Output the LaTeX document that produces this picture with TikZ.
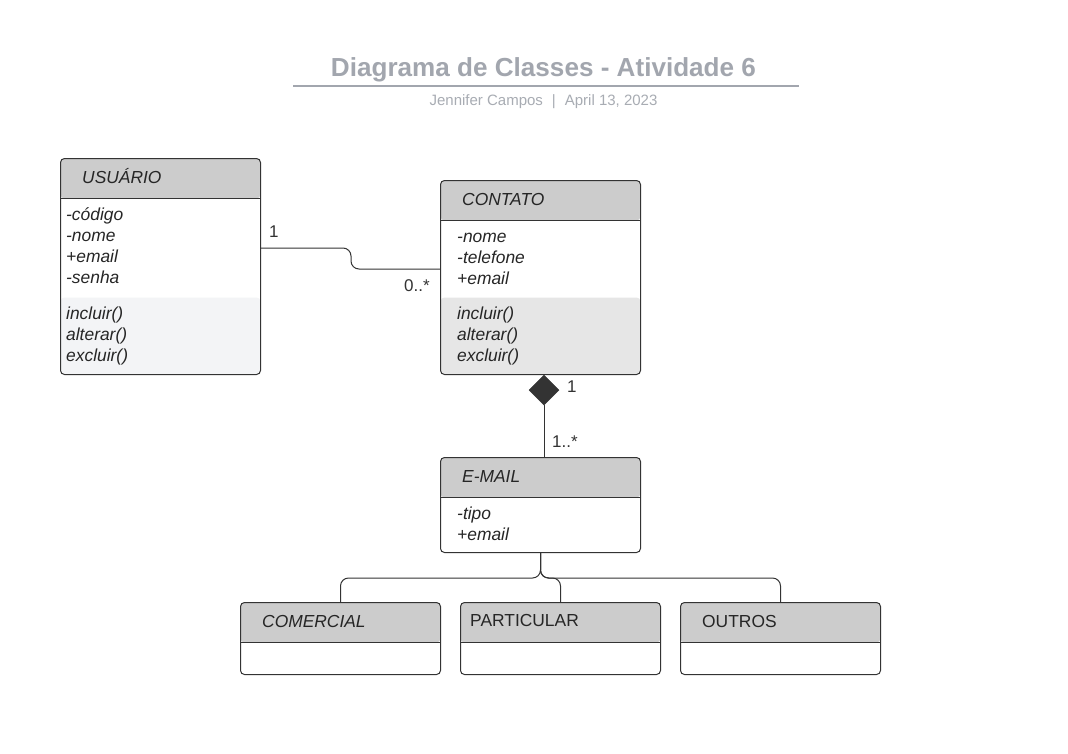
\documentclass[tikz,border=0pt]{standalone}
\usepackage{fontspec}
\setmainfont{Liberation Sans}
\usetikzlibrary{shapes.geometric,calc}
\definecolor{hdrc}{HTML}{CCCCCC}
\definecolor{linec}{HTML}{333333}
\definecolor{txtc}{HTML}{262626}
\definecolor{titc}{HTML}{A2A6AE}
\definecolor{subc}{HTML}{A8ACB3}
\definecolor{methu}{HTML}{F3F4F6}
\definecolor{methc}{HTML}{E6E6E6}
\begin{document}
\begin{tikzpicture}[x=1pt,y=-1pt,
  box/.style={draw=linec, line width=1pt, rounded corners=4pt, fill=white,
    minimum width=200pt, inner sep=0pt, anchor=north west},
  hdr/.style={path picture={
    \fill[hdrc] (path picture bounding box.north west) rectangle ([yshift=-40pt]path picture bounding box.north east);
    \draw[linec, line width=1pt] ([yshift=-40pt]path picture bounding box.north west) -- ([yshift=-40pt]path picture bounding box.north east);}},
  cls/.style 2 args={path picture={
    \fill[#2] ([yshift=-#1]path picture bounding box.north west) rectangle (path picture bounding box.south east);
    \fill[hdrc] (path picture bounding box.north west) rectangle ([yshift=-40pt]path picture bounding box.north east);
    \draw[linec, line width=1pt] ([yshift=-40pt]path picture bounding box.north west) -- ([yshift=-40pt]path picture bounding box.north east);}},
  clsname/.style={font=\fontsize{17.4}{20}\selectfont\itshape, text=txtc, inner sep=0pt, anchor=base west},
  clsup/.style={font=\fontsize{17.4}{20}\selectfont, text=txtc, inner sep=0pt, anchor=base west},
  member/.style={font=\fontsize{17.4}{20}\selectfont\itshape, text=txtc, inner sep=0pt, anchor=base west},
  lbl/.style={font=\fontsize{17}{19}\selectfont, text=linec, inner sep=0pt, anchor=base west},
  conn/.style={draw=linec, line width=1pt},
  titlet/.style={font=\fontsize{26.1}{30}\selectfont\bfseries, text=titc, inner sep=0pt, anchor=base},
  subt/.style={font=\fontsize{15}{18}\selectfont, text=subc, inner sep=0pt, anchor=base}
]
\useasboundingbox (0,0) rectangle (1068,753);
\fill[white] (0,0) rectangle (1068,753);

% title
\node[titlet] (title) at (543.5,76) {Diagrama de Classes - Atividade 6};
\coordinate (tl) at (293,86);
\coordinate (tr) at (799,86);
\draw[titc, line width=1.5pt] (tl) -- (tr);
\node[subt] (sub) at (543.5,105) {Jennifer Campos\hspace{9pt}|\hspace{9pt}April 13, 2023};

% boxes
\node[box, minimum height=216pt, cls={139pt}{methu}] (usuario) at (60,158) {};
\node[box, minimum height=194pt, cls={117pt}{methc}] (contato) at (440,180) {};
\node[box, minimum height=95pt, hdr] (email) at (440,457) {};
\node[box, minimum height=72pt, hdr] (comercial) at (240,602) {};
\node[box, minimum height=72pt, hdr] (particular) at (460,602) {};
\node[box, minimum height=72pt, hdr] (outros) at (680,602) {};

% USUARIO texts
\node[clsname] (usuario-t) at (82,183) {USUÁRIO};
\foreach \t [count=\i] in {-código,-nome,+email,-senha}
  \node[member] (usuario-a\i) at (66,{220+21.3*(\i-1)}) {\t};
\foreach \t [count=\i] in {incluir(),alterar(),excluir()}
  \node[member] (usuario-m\i) at (66,{319+21*(\i-1)}) {\t};

% CONTATO texts
\node[clsname] (contato-t) at (462,205) {CONTATO};
\foreach \t [count=\i] in {-nome,-telefone,+email}
  \node[member] (contato-a\i) at (457,{242+21.3*(\i-1)}) {\t};
\foreach \t [count=\i] in {incluir(),alterar(),excluir()}
  \node[member] (contato-m\i) at (457,{319+21*(\i-1)}) {\t};

% EMAIL texts
\node[clsname] (email-t) at (462,482) {E-MAIL};
\foreach \t [count=\i] in {-tipo,+email}
  \node[member] (email-a\i) at (457,{519+21.5*(\i-1)}) {\t};

% subclasses
\node[clsname] (comercial-t) at (262,627) {COMERCIAL};
\node[clsup] (particular-t) at (470,626) {PARTICULAR};
\node[clsup] (outros-t) at (702,627) {OUTROS};

% association usuario - contato
\coordinate (ua) at ($(usuario.north east)+(0,90)$);
\coordinate (ca) at ($(contato.north west)+(0,89)$);
\draw[conn, rounded corners=8pt] (ua) -- ++(90,0) |- (ca);
\node[lbl] (m1) at (269,237) {1};
\node[lbl] (m2) at (404,291) {0..*};

% composition contato - email
\node[diamond, fill=linec, draw=linec, line width=0.5pt, minimum width=30pt, minimum height=30pt, inner sep=0pt] (comp) at (544,390) {};
\draw[conn] (comp.south) -- (comp.south |- email.north);
\node[lbl] (m3) at (567,392) {1};
\node[lbl] (m4) at (552,447) {1..*};

% generalization branches
\coordinate (ej) at ($(email.south)+(0,25)$);
\draw[conn, rounded corners=8pt] (email.south) -- (ej) -| (comercial.north);
\draw[conn, rounded corners=8pt] (email.south) -- (ej) -| (outros.north);
\draw[conn, rounded corners=8pt] (email.south) -- (ej) -| (particular.north);
\end{tikzpicture}
\end{document}
